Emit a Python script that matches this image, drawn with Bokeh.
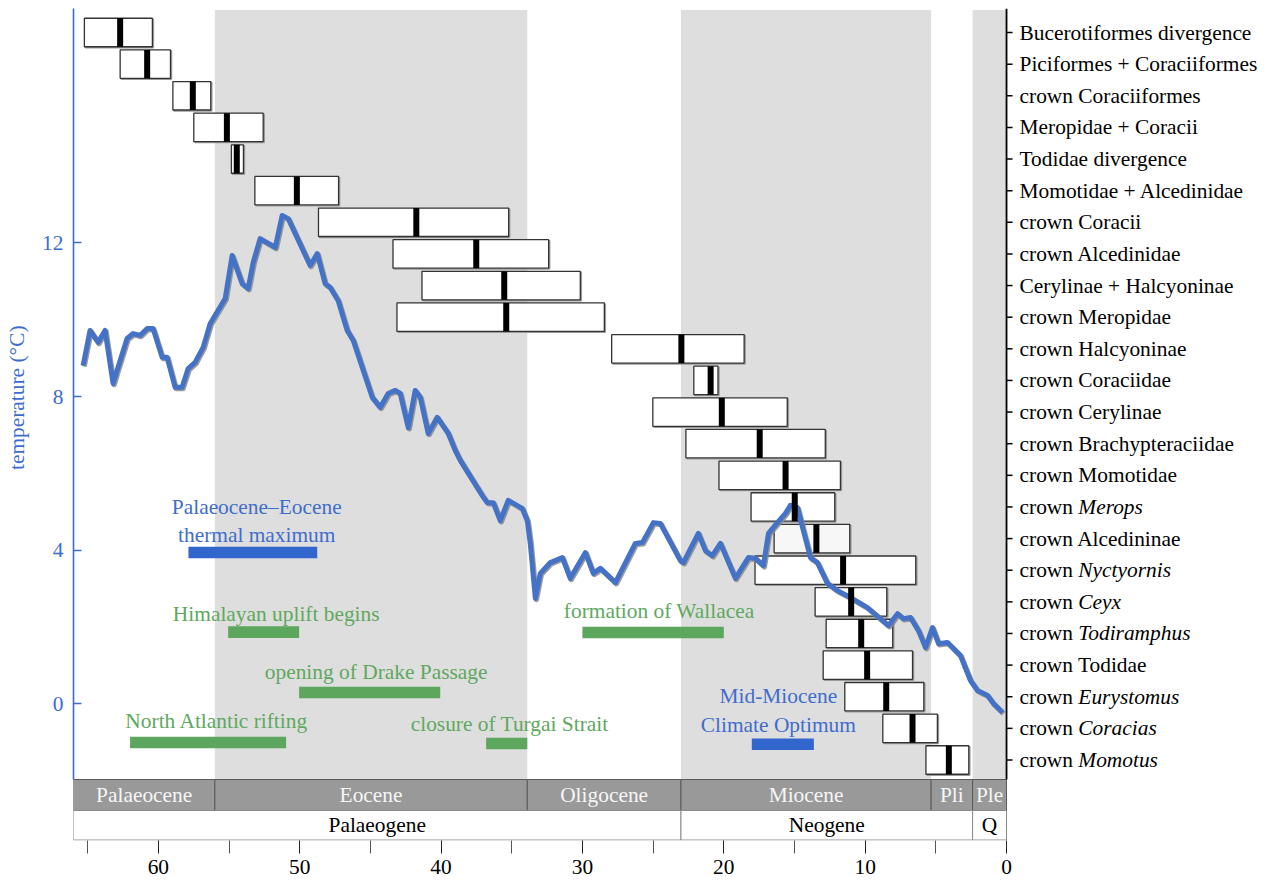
from bokeh.plotting import figure
from bokeh.models import Range1d, LinearAxis, FixedTicker
from bokeh.core.properties import value
from bokeh.embed import file_html
from bokeh.resources import INLINE

# ---------------- data ----------------
# temperature curve (Ma, deg C)
age_ma = [65.32, 64.83, 64.26, 63.77, 63.20, 62.85, 62.21, 61.78, 61.29, 60.79,
          60.37, 59.73, 59.38, 58.81, 58.32, 57.89, 57.40, 56.83, 56.33, 55.27,
          54.78, 54.07, 53.65, 53.29, 52.80, 51.73, 51.24, 50.81, 49.26, 48.76,
          48.20, 47.84, 47.28, 46.64, 46.21, 44.87, 44.30, 43.74, 43.24, 42.89,
          42.32, 41.83, 41.47, 40.91, 40.27, 39.49, 39.00, 38.64, 37.09, 36.73,
          36.31, 35.81, 35.25, 34.26, 33.90, 33.69, 33.33, 32.98, 32.27, 31.42,
          30.86, 29.79, 29.23, 28.73, 27.67, 26.26, 25.76, 24.98, 24.49, 23.07,
          22.86, 21.80, 21.30, 20.81, 20.24, 19.18, 18.26, 17.76, 17.20, 16.84,
          16.21, 15.64, 15.29, 14.79, 14.37, 13.87, 13.38, 12.67, 11.96, 11.04,
          9.84, 8.92, 8.35, 7.71, 7.29, 6.79, 6.23, 5.73, 5.24, 4.81,
          4.18, 3.26, 2.55, 2.05, 1.34, 0.92, 0.28]
temp_c = [8.81, 9.72, 9.41, 9.72, 8.34, 8.76, 9.51, 9.64, 9.59, 9.77,
          9.77, 9.02, 9.02, 8.24, 8.24, 8.73, 8.89, 9.28, 9.90, 10.55,
          11.67, 10.94, 10.81, 11.49, 12.11, 11.88, 12.71, 12.63, 11.41, 11.72,
          10.94, 10.84, 10.50, 9.72, 9.46, 7.98, 7.72, 8.08, 8.16, 8.08,
          7.19, 8.16, 7.98, 7.04, 7.46, 7.04, 6.60, 6.34, 5.43, 5.24,
          5.24, 4.77, 5.30, 5.09, 4.77, 4.18, 2.75, 3.40, 3.68, 3.81,
          3.27, 3.94, 3.40, 3.53, 3.16, 4.18, 4.20, 4.72, 4.70, 3.73,
          3.68, 4.44, 3.99, 3.86, 4.18, 3.27, 3.81, 3.79, 3.60, 4.44,
          4.72, 4.96, 5.17, 5.11, 4.51, 3.81, 3.68, 3.14, 2.95, 2.77,
          2.51, 2.22, 2.04, 2.35, 2.22, 2.25, 1.91, 1.47, 1.99, 1.57,
          1.60, 1.26, 0.61, 0.35, 0.22, 0.01, -0.22]

# divergence-time nodes (top to bottom)
node_roman = ["Bucerotiformes divergence", "Piciformes + Coraciiformes", "crown Coraciiformes",
              "Meropidae + Coracii", "Todidae divergence", "Momotidae + Alcedinidae",
              "crown Coracii", "crown Alcedinidae", "Cerylinae + Halcyoninae",
              "crown Meropidae", "crown Halcyoninae", "crown Coraciidae",
              "crown Cerylinae", "crown Brachypteraciidae", "crown Momotidae",
              "crown", "crown Alcedininae", "crown", "crown", "crown",
              "crown Todidae", "crown", "crown", "crown"]
node_italic = ["", "", "", "", "", "", "", "", "", "", "", "", "", "", "",
               "Merops", "", "Nyctyornis", "Ceyx", "Todiramphus", "",
               "Eurystomus", "Coracias", "Momotus"]
node_old = [65.23, 62.70, 58.97, 57.49, 54.83, 53.17, 48.67, 43.40, 41.35, 43.12,
            27.93, 22.12, 25.02, 22.68, 20.34, 18.07, 16.44, 17.79, 13.54, 12.76,
            12.97, 11.44, 8.75, 5.70]
node_young = [60.42, 59.14, 56.29, 52.58, 53.98, 47.25, 35.22, 32.39, 30.15, 28.45,
              18.56, 20.41, 15.51, 12.82, 11.75, 12.15, 11.09, 6.42, 8.47, 8.05,
              6.65, 5.85, 4.89, 2.67]
node_median = [62.70, 60.79, 57.56, 55.15, 54.45, 50.20, 41.75, 37.51, 35.53, 35.39,
               23.00, 20.93, 20.14, 17.46, 15.63, 14.98, 13.45, 11.56, 10.99, 10.28,
               9.86, 8.51, 6.65, 4.08]

# geological time scale
epoch_names = ["Palaeocene", "Eocene", "Oligocene", "Miocene", "Pli", "Ple"]
epoch_start = [66.0, 56.0, 33.9, 23.03, 5.333, 2.4]
epoch_end = [56.0, 33.9, 23.03, 5.333, 2.4, 0.0]
shaded_epochs = ["Eocene", "Miocene", "Ple"]
period_names = ["Palaeogene", "Neogene", "Q"]
period_start = [66.0, 23.03, 2.4]
period_end = [23.03, 2.4, 0.0]

# events
event_names = ["Palaeocene\u2013Eocene\nthermal maximum", "Himalayan uplift begins",
               "opening of Drake Passage", "North Atlantic rifting",
               "closure of Turgai Strait", "formation of Wallacea",
               "Mid-Miocene\nClimate Optimum"]
event_start = [57.87, 55.06, 50.04, 62.0, 36.81, 30.0, 18.02]
event_end = [48.76, 50.04, 40.06, 50.96, 33.9, 20.0, 13.63]
event_kind = ["climate", "geo", "geo", "geo", "geo", "geo", "climate"]

temp_ticks = [0, 4, 8, 12]
age_ticks = [60, 50, 40, 30, 20, 10, 0]
age_minor = [65, 55, 45, 35, 25, 15, 5]

# ---------------- layout / style ----------------
FONT = "Liberation Serif"
FS = "21.4px"
AX_BLUE = "#3d6ccc"
LINE_BLUE = "#4472c6"
BAR_BLUE = "#3366cc"
TXT_BLUE = "#3f6dcc"
GREEN_TXT = "#5ea85f"
GREEN_BAR = "#5ca65d"
SHADE = "#dedede"

W, H = 1266, 881
X_LEFT, X_RIGHT = 66.0, -18.39          # frame spans to the right edge (labels live there)
T_TOP, T_BOT = 18.098, -3.552
ROW1_TOP, ROW_MID = -1.965, -2.771
N_TOP, N_BOT, N_AXIS_END = -0.759, 25.545, 23.62
HALF_BOX = 0.45
LABEL_PAD = 13
CROWN_W = 58.8                          # width of "crown " at 21.4px
SHADOW_DX, SHADOW_DT = -0.075, -0.03    # ~1px right / down drop shadow

event_level = [3.94, 1.87, 0.30, -1.00, -1.03, 1.86, -1.05]
event_text_x = [53.04, 51.66, 44.59, 55.86, 35.15, 24.57, 16.14]
event_text_y = [4.76, 2.35, 0.82, -0.455, -0.51, 2.41, -0.17]
BAR_HALF = 0.15

p = figure(width=W, height=H, output_backend="svg", toolbar_location=None,
           x_range=Range1d(X_LEFT, X_RIGHT), y_range=Range1d(T_BOT, T_TOP),
           x_axis_type=None, y_axis_type=None,
           min_border_left=73, min_border_right=0, min_border_top=8, min_border_bottom=41)
p.outline_line_color = None
p.grid.visible = False
p.extra_y_ranges = {"nodes": Range1d(N_BOT, N_TOP)}

# shaded epochs
sh = [i for i, n in enumerate(epoch_names) if n in shaded_epochs]
p.quad(left=[epoch_start[i] for i in sh], right=[epoch_end[i] for i in sh],
       bottom=ROW1_TOP, top=18.06, fill_color=SHADE, line_color=None)

# time scale rows
p.quad(left=epoch_start, right=epoch_end, bottom=ROW_MID, top=ROW1_TOP,
       fill_color="#999999", line_color="#5a5a5a", line_width=1)
p.text(x=[(a + b) / 2 for a, b in zip(epoch_start, epoch_end)], y=(ROW1_TOP + ROW_MID) / 2,
       text=epoch_names, text_align="center", text_baseline="middle",
       text_font=value(FONT), text_font_size=FS, text_color="#f6f6f6")
p.quad(left=period_start, right=period_end, bottom=T_BOT + 0.012, top=ROW_MID,
       fill_color="white", line_color="#8a8a8a", line_width=1)
p.text(x=[(a + b) / 2 for a, b in zip(period_start, period_end)], y=(ROW_MID + T_BOT) / 2,
       text=period_names, text_align="center", text_baseline="middle",
       text_font=value(FONT), text_font_size=FS, text_color="black")

# events
ev_bar_col = [BAR_BLUE if k == "climate" else GREEN_BAR for k in event_kind]
ev_txt_col = [TXT_BLUE if k == "climate" else GREEN_TXT for k in event_kind]
p.quad(left=event_start, right=event_end,
       bottom=[v - BAR_HALF for v in event_level], top=[v + BAR_HALF for v in event_level],
       fill_color=ev_bar_col, line_color=None)
p.text(x=event_text_x, y=event_text_y, text=event_names, text_align="center",
       text_baseline="middle", text_font=value(FONT), text_font_size=FS,
       text_color=ev_txt_col, text_line_height=1.2)

# node boxes (with a faint grey edge shadow)
idx = list(range(len(node_roman)))
box_fill = ["#f7f7f7" if n == "crown Alcedininae" else "white" for n in node_roman]
p.quad(left=[v + SHADOW_DX for v in node_old], right=[v + SHADOW_DX for v in node_young],
       top=[i - HALF_BOX + 0.03 for i in idx], bottom=[i + HALF_BOX + 0.03 for i in idx],
       y_range_name="nodes", fill_color=None, line_color="#9a9a9a", line_width=1.4)
p.quad(left=node_old, right=node_young, top=[i - HALF_BOX for i in idx],
       bottom=[i + HALF_BOX for i in idx], y_range_name="nodes",
       fill_color=box_fill, line_color="#333333", line_width=1.3)

# temperature curve with drop shadow
p.line([a + SHADOW_DX for a in age_ma], [t + SHADOW_DT for t in temp_c],
       line_width=5.4, line_color="#8a8a8a", line_alpha=0.85, line_join="round")
p.line(age_ma, temp_c, line_width=5, line_color=LINE_BLUE, line_join="round")

# medians
p.segment(x0=node_median, x1=node_median, y0=[i - HALF_BOX for i in idx],
          y1=[i + HALF_BOX for i in idx], y_range_name="nodes",
          line_color="black", line_width=6, line_cap="butt")

# node axis at age 0 (line, outward ticks, labels)
p.segment(x0=[0.0], x1=[0.0], y0=[N_TOP], y1=[N_AXIS_END], y_range_name="nodes",
          line_color="black", line_width=1.8)
p.ray(x=[0.0] * len(idx), y=idx, length=6, length_units="screen", angle=0,
      y_range_name="nodes", line_color="black", line_width=1.5)
p.text(x=[0.0] * len(idx), y=idx, text=node_roman, x_offset=LABEL_PAD,
       y_range_name="nodes", text_align="left", text_baseline="middle",
       text_font=value(FONT), text_font_size=FS, text_color="black")
it = [i for i in idx if node_italic[i]]
p.text(x=[0.0] * len(it), y=it, text=[node_italic[i] for i in it],
       x_offset=LABEL_PAD + CROWN_W, y_range_name="nodes", text_align="left",
       text_baseline="middle", text_font=value(FONT), text_font_size=FS,
       text_font_style="italic", text_color="black")

# left temperature axis
ly = LinearAxis(ticker=FixedTicker(ticks=temp_ticks), bounds=(ROW1_TOP, T_TOP),
                axis_label="\u2003\u2003\u2002temperature (\u00b0C)")
ly.axis_line_color = AX_BLUE
ly.axis_line_width = 1.6
ly.major_tick_line_color = AX_BLUE
ly.major_tick_line_width = 1.6
ly.major_tick_in = 8
ly.major_tick_out = 0
ly.minor_tick_line_color = None
ly.major_label_standoff = 10
ly.major_label_text_font = FONT
ly.major_label_text_font_size = FS
ly.major_label_text_color = AX_BLUE
ly.axis_label_text_font = FONT
ly.axis_label_text_font_size = FS
ly.axis_label_text_font_style = "normal"
ly.axis_label_text_color = AX_BLUE
ly.axis_label_standoff = 10
p.add_layout(ly, "left")

# bottom age axis
bx = LinearAxis(ticker=FixedTicker(ticks=age_ticks, minor_ticks=age_minor))
bx.axis_line_color = None
bx.major_tick_line_color = "#222222"
bx.minor_tick_line_color = "#555555"
bx.major_tick_in = 0
bx.major_tick_out = 13
bx.minor_tick_in = 0
bx.minor_tick_out = 13
bx.major_label_standoff = 6
bx.major_label_text_font = FONT
bx.major_label_text_font_size = FS
bx.major_label_text_color = "black"
p.add_layout(bx, "below")

open("out.html", "w").write(file_html(p, INLINE))
